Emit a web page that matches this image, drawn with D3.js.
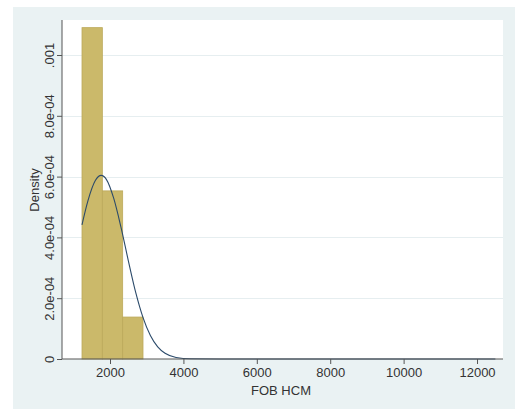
<!DOCTYPE html>
<html><head><meta charset="utf-8">
<script src="https://cdn.jsdelivr.net/npm/d3@7"></script>
<style>body{margin:0;background:#fff}svg{display:block}text{font-family:"Liberation Sans",Arial,sans-serif;fill:#333}</style>
</head><body><svg id="c" width="515" height="409"></svg>
<script>
// Histogram bins (FOB HCM) and densities
const binEdges = [1237, 1791, 2345, 2899];
const binDensity = [0.00109, 0.000553, 0.000138];
// Normal density overlay
const curveX = [1236, 1400, 1600, 1760, 1900, 2100, 2300, 2500, 2700, 2900, 3100, 3300, 3500, 3800, 4200, 5000, 12500];
const curveY = [4.41e-4, 5.21e-4, 5.87e-4, 6.04e-4, 5.91e-4, 5.29e-4, 4.33e-4, 3.23e-4, 2.19e-4, 1.36e-4, 7.7e-5, 3.97e-5, 1.87e-5, 5.1e-6, 6.5e-7, 0, 0];
const xTicks = [2000, 4000, 6000, 8000, 10000, 12000];
const yTicks = [0, 0.0002, 0.0004, 0.0006, 0.0008, 0.001];
const yTickLabels = ["0", "2.0e-04", "4.0e-04", "6.0e-04", "8.0e-04", ".001"];

const svg = d3.select("#c");
const L = 62, R = 503, T = 20, B = 359;
const x = d3.scaleLinear().domain([692, 12708]).range([L, R]);
const y = d3.scaleLinear().domain([0, 0.001]).range([B, 55]);

svg.append("rect").attr("x", 13).attr("y", 7).attr("width", 502).attr("height", 402).attr("fill", "#eaf2f3");
svg.append("rect").attr("x", L).attr("y", T).attr("width", R - L).attr("height", B - T).attr("fill", "#fff");

// grid
svg.append("g").selectAll("line").data(yTicks.slice(1)).join("line")
  .attr("x1", L).attr("x2", R).attr("y1", d => Math.round(y(d)) + 0.5).attr("y2", d => Math.round(y(d)) + 0.5)
  .attr("stroke", "#e6eef0").attr("stroke-width", 1);

// bars
const bins = binDensity.map((d, i) => ({x0: binEdges[i], x1: binEdges[i + 1], d}));
svg.append("g").selectAll("rect").data(bins).join("rect")
  .attr("x", d => x(d.x0)).attr("width", d => x(d.x1) - x(d.x0))
  .attr("y", d => y(d.d)).attr("height", d => y(0) - y(d.d))
  .attr("fill", "#cbb96a").attr("stroke", "#bca95a").attr("stroke-width", 0.8);

// normal curve
const pts = curveX.map((v, i) => [v, curveY[i]]);
svg.append("path").datum(pts)
  .attr("d", d3.line().x(d => x(d[0])).y(d => y(d[1])).curve(d3.curveMonotoneX))
  .attr("fill", "none").attr("stroke", "#2b4a6a").attr("stroke-width", 1.1);

// axes
const xa = svg.append("g").attr("transform", `translate(0,${B})`)
  .call(d3.axisBottom(x).tickValues(xTicks).tickSize(5).tickPadding(4).tickFormat(d3.format("d")));
const ya = svg.append("g").attr("transform", `translate(${L},0)`)
  .call(d3.axisLeft(y).tickValues(yTicks).tickSize(5).tickFormat((d, i) => yTickLabels[i]));
[xa, ya].forEach(g => {
  g.select(".domain").attr("stroke", "#555");
  g.selectAll(".tick line").attr("stroke", "#555");
  g.selectAll("text").attr("font-size", 13).attr("fill", "#333").attr("font-family", "Liberation Sans, Arial, sans-serif");
});
ya.select(".domain").attr("d", `M0,${T}V${B}`);
xa.select(".domain").attr("d", `M${L},0H${R}`);
ya.selectAll(".tick text")
  .attr("transform", "rotate(-90)").attr("x", 0).attr("y", -8).attr("dy", 0)
  .attr("text-anchor", "middle");

svg.append("text").attr("x", 281).attr("y", 395).attr("text-anchor", "middle").attr("font-size", 13).text("FOB HCM");
svg.append("text").attr("transform", "translate(39,190) rotate(-90)").attr("text-anchor", "middle").attr("font-size", 13).text("Density");
</script></body></html>
